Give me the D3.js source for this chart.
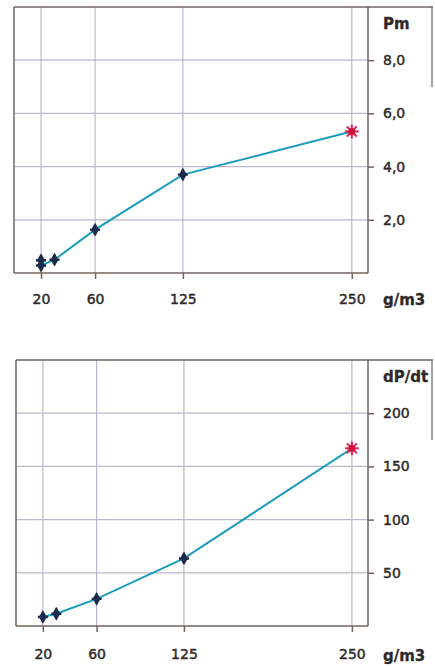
<!DOCTYPE html>
<html><head><meta charset="utf-8">
<script src="https://cdn.jsdelivr.net/npm/d3@7/dist/d3.min.js"></script>
<style>body{margin:0;background:#fff}svg{display:block}</style>
</head><body>
<svg id="c" width="435" height="668"></svg>
<script>
// ---- data ----
const xTicks = [20, 60, 125, 250];
const xTickLabels = ["20", "60", "125", "250"];
const xUnit = "g/m3";

const pmTitle = "Pm";
const pmX = [20, 20, 30, 60, 125, 250];
const pmY = [0.48, 0.28, 0.5, 1.63, 3.7, 5.32];
const pmTicks = [2, 4, 6, 8];
const pmTickLabels = ["2,0", "4,0", "6,0", "8,0"];

const dpTitle = "dP/dt";
const dpX = [20, 30, 60, 125, 250];
const dpY = [8.5, 11.5, 25.5, 63.5, 167];
const dpTicks = [50, 100, 150, 200];
const dpTickLabels = ["50", "100", "150", "200"];

const svg = d3.select("#c");
const frameCol = "#6f6461", gridCol = "#bdb6cc", lineCol = "#1c9cbd", markCol = "#1b2d4e", starCol = "#e3245a";
const txtCol = "#2f2a2a";
const font = "'DejaVu Sans', Verdana, sans-serif";

function styleText(sel, size, bold) {
  sel.attr("font-family", font).attr("font-size", size).attr("fill", txtCol)
    .attr("font-weight", bold ? "bold" : "normal")
    .attr("stroke", txtCol).attr("stroke-width", bold ? 0.3 : 0.45);
}

function panel(cfg) {
  const x = d3.scaleLinear().domain([0, 262]).range([cfg.left, cfg.right]);
  const y = d3.scaleLinear().domain([0, cfg.ymax]).range([cfg.bottom, cfg.top]);
  const g = svg.append("g");
  // grid
  g.selectAll(".vg").data(xTicks).join("line")
    .attr("x1", d => x(d)).attr("x2", d => x(d)).attr("y1", cfg.top).attr("y2", cfg.bottom)
    .attr("stroke", gridCol).attr("stroke-width", 1.2);
  g.selectAll(".hg").data(cfg.yTicks).join("line")
    .attr("x1", cfg.left).attr("x2", cfg.right).attr("y1", d => y(d)).attr("y2", d => y(d))
    .attr("stroke", gridCol).attr("stroke-width", 1.2);
  // frame
  g.append("line").attr("x1", cfg.left).attr("x2", 433).attr("y1", cfg.top).attr("y2", cfg.top).attr("stroke", frameCol).attr("stroke-width", 1.5);
  g.append("line").attr("x1", cfg.left).attr("x2", cfg.left).attr("y1", cfg.top).attr("y2", cfg.bottom).attr("stroke", frameCol).attr("stroke-width", 1.5);
  // axes
  const xAxis = d3.axisBottom(x).tickValues(xTicks).tickFormat((d, i) => xTickLabels[i]).tickSize(6).tickPadding(cfg.xPad).tickSizeOuter(0);
  const xa = g.append("g").attr("transform", `translate(0,${cfg.bottom})`).call(xAxis);
  xa.select(".domain").attr("stroke", frameCol).attr("stroke-width", 1.5).attr("d", `M${cfg.left},0H${cfg.right}`);
  xa.selectAll(".tick line").attr("stroke", frameCol).attr("stroke-width", 1.5);
  styleText(xa.selectAll(".tick text"), 14, false);
  const yAxis = d3.axisRight(y).tickValues(cfg.yTicks).tickFormat((d, i) => cfg.yLabels[i]).tickSize(6).tickPadding(9).tickSizeOuter(0);
  const ya = g.append("g").attr("transform", `translate(${cfg.right},0)`).call(yAxis);
  ya.select(".domain").attr("stroke", frameCol).attr("stroke-width", 1.5).attr("d", `M0,${cfg.top}V${cfg.bottom}`);
  ya.selectAll(".tick line").attr("stroke", frameCol).attr("stroke-width", 1.5);
  styleText(ya.selectAll(".tick text"), 14, false);
  // titles
  styleText(g.append("text").attr("x", 383).attr("y", cfg.titleY).text(cfg.title), 15, true);
  styleText(g.append("text").attr("x", 383).attr("y", cfg.bottom + cfg.unitDy).text(xUnit), 15, true);
  // line
  const pts = cfg.xs.map((v, i) => [v, cfg.ys[i]]);
  g.append("path").datum(pts)
    .attr("d", d3.line().x(d => x(d[0])).y(d => y(d[1])))
    .attr("fill", "none").attr("stroke", lineCol).attr("stroke-width", 2);
  // markers
  const mk = pts.slice(0, -1);
  g.selectAll(".m").data(mk).join("path")
    .attr("transform", d => `translate(${x(d[0])},${y(d[1])})`)
    .attr("d", d3.symbol(d3.symbolDiamond, 55)())
    .attr("fill", markCol);
  g.selectAll(".mp").data(mk).join("path")
    .attr("transform", d => `translate(${x(d[0])},${y(d[1])})`)
    .attr("d", "M-5,0H5M0,-5V5")
    .attr("stroke", markCol).attr("stroke-width", 2.4);
  const last = pts[pts.length - 1];
  const sg = g.append("g").attr("transform", `translate(${x(last[0])},${y(last[1])})`);
  for (let k = 0; k < 8; k++) {
    const a = k * Math.PI / 4;
    sg.append("line").attr("x1", 0).attr("y1", 0).attr("x2", 7 * Math.cos(a)).attr("y2", 7 * Math.sin(a))
      .attr("stroke", starCol).attr("stroke-width", 2);
  }
  sg.append("circle").attr("r", 3.5).attr("fill", "#d0103a");
  // right outer border (partial)
  g.append("line").attr("x1", 432).attr("x2", 432).attr("y1", cfg.top).attr("y2", cfg.top + 80).attr("stroke", frameCol).attr("stroke-width", 1.2);
}

panel({left: 14, right: 368, top: 7, bottom: 273, ymax: 10, yTicks: pmTicks, yLabels: pmTickLabels,
  title: pmTitle, titleY: 29, unitDy: 32, xPad: 15, xs: pmX, ys: pmY});
panel({left: 16, right: 368, top: 360, bottom: 626, ymax: 250, yTicks: dpTicks, yLabels: dpTickLabels,
  title: dpTitle, titleY: 382, unitDy: 35, xPad: 17, xs: dpX, ys: dpY});
</script>
</body></html>
